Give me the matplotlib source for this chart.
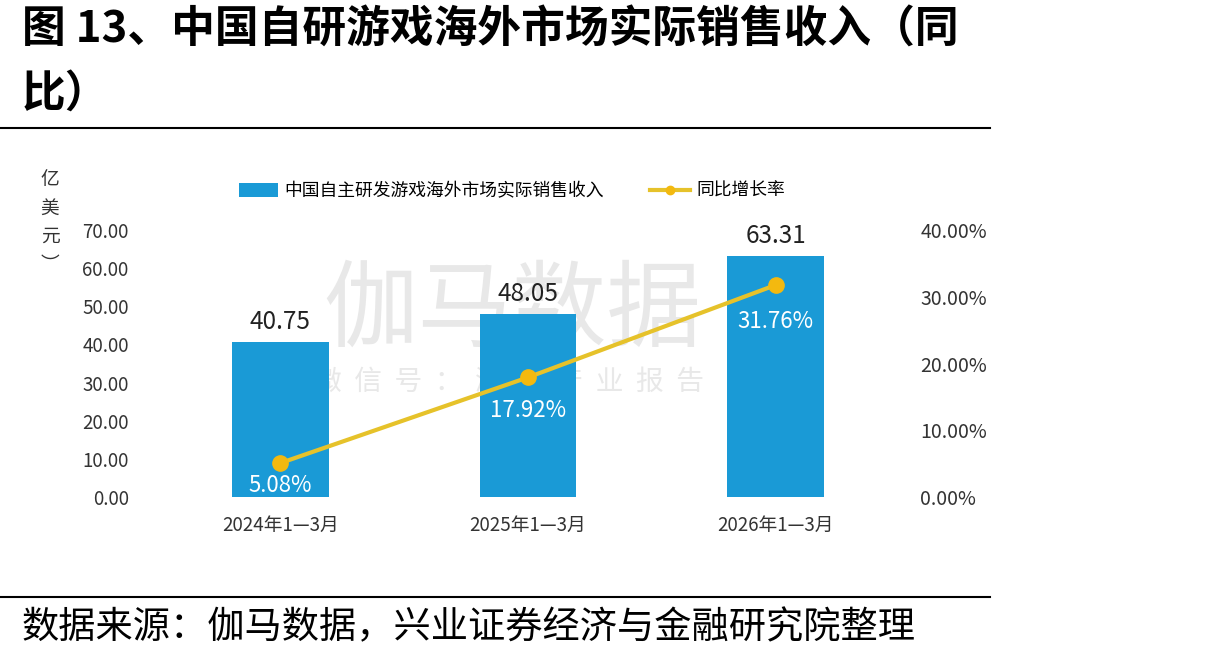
import matplotlib
matplotlib.use("Agg")
import matplotlib.pyplot as plt
from matplotlib.lines import Line2D
from matplotlib.patches import Patch

plt.rcParams['font.family'] = ['Noto Sans CJK SC', 'DejaVu Sans']

categories = ["2024年1—3月", "2025年1—3月", "2026年1—3月"]
revenue = [40.75, 48.05, 63.31]
growth = [5.08, 17.92, 31.76]
left_ticks = [0, 10, 20, 30, 40, 50, 60, 70]
right_ticks = [0, 10, 20, 30, 40]

W, H = 1228, 661
fig = plt.figure(figsize=(W / 100, H / 100), dpi=100)

def fx(px):
    return px / W

def fy(py):
    return 1 - py / H

# Title
fig.text(fx(22), fy(30), "图 13、中国自研游戏海外市场实际销售收入（同", fontsize=31.5,
         fontweight='bold', va='center', ha='left', color='black')
fig.text(fx(22), fy(95), "比）", fontsize=31.5, fontweight='bold', va='center', ha='left', color='black')
fig.add_artist(Line2D([0, fx(990)], [fy(128), fy(128)], color='black', lw=1.5))
fig.add_artist(Line2D([0, fx(990)], [fy(597), fy(597)], color='black', lw=1.5))
fig.text(fx(22), fy(628), "数据来源：伽马数据，兴业证券经济与金融研究院整理", fontsize=26.8,
         va='center', ha='left', color='black')

# Axes
ax = fig.add_axes([fx(144), fy(497), fx(912) - fx(144), fy(230) - fy(497)])
ax.set_xlim(-0.55, 2.55)
ax.set_ylim(0, 70)
for s in ax.spines.values():
    s.set_visible(False)
ax.set_yticks(left_ticks)
ax.set_yticklabels([f"{v:.2f}" for v in left_ticks], fontsize=13.5, color='#333333')
ax.set_xticks(range(len(categories)))
ax.set_xticklabels(categories, fontsize=13.5, color='#333333')
ax.tick_params(length=0, axis='y', pad=11)
ax.tick_params(length=0, axis='x', pad=13)

# Watermark (behind bars)
ax.text(fx(512), fy(312), "伽马数据", fontsize=68, color='#e8e8e8', ha='center', va='center',
        transform=fig.transFigure, zorder=0)
ax.text(fx(509), fy(382), "微  信  号  ：  游  戏  产  业  报  告", fontsize=20, color='#e8e8e8',
        ha='center', va='center', transform=fig.transFigure, zorder=0)

bar_color = '#1a9ad6'
x = list(range(len(categories)))
ax.bar(x, revenue, width=0.39, color=bar_color, zorder=2)
for xi, v in zip(x, revenue):
    ax.annotate(f"{v:.2f}", (xi, v), xytext=(0, 14), textcoords='offset points',
                ha='center', va='center', fontsize=17.5, color='#222222', zorder=4)

ax2 = ax.twinx()
ax2.set_ylim(0, 40)
for s in ax2.spines.values():
    s.set_visible(False)
ax2.set_yticks(right_ticks)
ax2.set_yticklabels([f"{v:.2f}%" for v in right_ticks], fontsize=14, color='#333333')
ax2.tick_params(length=0, pad=6)
ax2.plot(x, growth, color='#e6c22a', lw=3, marker='o', markersize=11,
         markerfacecolor='#f3b90f', markeredgecolor='#f3b90f', zorder=3)
offsets = [-16, -24, -26]
for xi, g, off in zip(x, growth, offsets):
    ax2.annotate(f"{g:.2f}%", (xi, g), xytext=(0, off), textcoords='offset points',
                 ha='center', va='center', fontsize=16, color='white')

# Y label
fig.text(fx(50), fy(222), "亿\n美\n元\n︶", fontsize=13.5, color='#333333', ha='center', va='center',
         linespacing=1.45)

# Legend
handles = [Patch(facecolor=bar_color, edgecolor='none'),
           Line2D([0], [0], color='#e6c22a', lw=3, marker='o', markersize=6,
                  markerfacecolor='#f3b90f', markeredgecolor='#f3b90f')]
labels = ["中国自主研发游戏海外市场实际销售收入", "同比增长率"]
fig.legend(handles, labels, loc='center', bbox_to_anchor=(fx(512), fy(191)), ncol=2,
           frameon=False, fontsize=12.8, handlelength=2.2, handleheight=0.8,
           columnspacing=2.6, handletextpad=0.4)

fig.savefig("out.png", dpi=100)
